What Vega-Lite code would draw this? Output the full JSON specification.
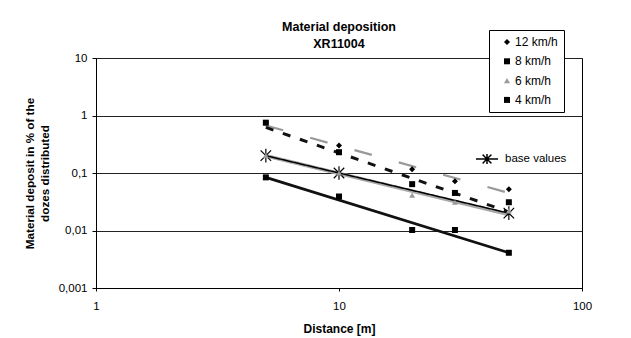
{
  "$schema": "https://vega.github.io/schema/vega-lite/v6.json",
  "width": 486,
  "height": 230,
  "autosize": {"type": "none"},
  "padding": {"left": 96, "top": 58, "right": 49, "bottom": 50},
  "background": "white",
  "config": {
    "font": "Liberation Sans",
    "view": {"stroke": "black", "strokeWidth": 1},
    "axis": {"labelFont": "Liberation Sans", "titleFont": "Liberation Sans", "labelColor": "black", "titleColor": "black", "domainColor": "black", "tickColor": "black", "labelFontSize": 11.5, "titleFontSize": 12, "titleFontWeight": "bold", "labelFlush": false},
    "legend": {"labelFont": "Liberation Sans", "labelFontSize": 11.5, "labelColor": "black"}
  },
  "title": {"text": ["Material deposition", "XR11004"], "fontSize": 12.5, "fontWeight": "bold", "color": "black", "lineHeight": 17, "offset": -21, "anchor": "middle", "font": "Liberation Sans"},
  "datasets": {
    "pts": [
      {"series": "12 km/h", "x": 5, "y": 0.75},
      {"series": "12 km/h", "x": 10, "y": 0.3},
      {"series": "12 km/h", "x": 20, "y": 0.116},
      {"series": "12 km/h", "x": 30, "y": 0.072},
      {"series": "12 km/h", "x": 50, "y": 0.052},
      {"series": "8 km/h", "x": 5, "y": 0.75},
      {"series": "8 km/h", "x": 10, "y": 0.23},
      {"series": "8 km/h", "x": 20, "y": 0.064},
      {"series": "8 km/h", "x": 30, "y": 0.045},
      {"series": "8 km/h", "x": 50, "y": 0.031},
      {"series": "6 km/h", "x": 5, "y": 0.2},
      {"series": "6 km/h", "x": 10, "y": 0.1},
      {"series": "6 km/h", "x": 20, "y": 0.041},
      {"series": "6 km/h", "x": 30, "y": 0.031},
      {"series": "6 km/h", "x": 50, "y": 0.022},
      {"series": "4 km/h", "x": 5, "y": 0.084},
      {"series": "4 km/h", "x": 10, "y": 0.039},
      {"series": "4 km/h", "x": 20, "y": 0.0102},
      {"series": "4 km/h", "x": 30, "y": 0.0102},
      {"series": "4 km/h", "x": 50, "y": 0.0041}
    ],
    "trend": [
      {"trend": "12 km/h", "x": 5, "y": 0.67},
      {"trend": "12 km/h", "x": 50, "y": 0.045},
      {"trend": "8 km/h", "x": 5, "y": 0.62},
      {"trend": "8 km/h", "x": 50, "y": 0.021},
      {"trend": "6 km/h", "x": 5, "y": 0.2},
      {"trend": "6 km/h", "x": 50, "y": 0.019},
      {"trend": "4 km/h", "x": 5, "y": 0.084},
      {"trend": "4 km/h", "x": 50, "y": 0.0041}
    ],
    "base": [
      {"name": "base values", "x": 5, "y": 0.2},
      {"name": "base values", "x": 10, "y": 0.1},
      {"name": "base values", "x": 50, "y": 0.02}
    ]
  },
  "encoding": {
    "x": {"field": "x", "type": "quantitative", "scale": {"type": "log", "domain": [1, 100], "nice": false},
      "axis": {"title": "Distance  [m]", "values": [1, 10, 100], "grid": false, "tickSize": 3, "labelPadding": 9, "titlePadding": 12, "labelFlush": false}},
    "y": {"field": "y", "type": "quantitative", "scale": {"type": "log", "domain": [0.001, 10], "nice": false},
      "axis": {"title": ["Material deposit in % of the", "dozes distributed"], "values": [0.001, 0.01, 0.1, 1, 10], "grid": true, "gridColor": "#222222", "gridOpacity": 1, "gridWidth": 1, "tickSize": 4, "labelPadding": 5, "labelExpr": "replace(toString(datum.value), '.', ',')", "titlePadding": 8, "titleLineHeight": 15, "titleFontSize": 11.7, "labelFlush": false}}
  },
  "layer": [
    {"data": {"name": "trend"}, "transform": [{"filter": "datum.trend == '6 km/h'"}], "mark": {"type": "line", "color": "#a8a8a8", "strokeWidth": 3.5}},
    {"data": {"name": "trend"}, "transform": [{"filter": "datum.trend == '4 km/h'"}], "mark": {"type": "line", "color": "#111111", "strokeWidth": 2.8}},
    {"data": {"name": "base"}, "mark": {"type": "line", "color": "black", "strokeWidth": 1.5},
      "encoding": {"strokeDash": {"field": "name", "type": "nominal", "scale": {"range": [[1, 0]]},
        "legend": {"title": null, "orient": "none", "legendX": 379, "legendY": 89, "padding": 0, "symbolType": "M-1,0H1M-0.4,-0.4L0.4,0.4M-0.4,0.4L0.4,-0.4M0,-0.45V0.45", "symbolSize": 484, "symbolStrokeColor": "black", "symbolStrokeWidth": 1.5, "symbolFillColor": "transparent", "labelOffset": 6, "labelFontSize": 11.5}}}},
    {"data": {"name": "trend"}, "transform": [{"filter": "datum.trend == '12 km/h'"}], "mark": {"type": "line", "color": "#999999", "strokeWidth": 2.2, "strokeDash": [18, 28]}},
    {"data": {"name": "trend"}, "transform": [{"filter": "datum.trend == '8 km/h'"}], "mark": {"type": "line", "color": "#111111", "strokeWidth": 3, "strokeDash": [8, 10]}},
    {"data": {"name": "base"}, "mark": {"type": "point", "shape": "M-1,-1L1,1M-1,1L1,-1M0,-1.3V1.3", "filled": false, "stroke": "black", "strokeWidth": 1.2, "size": 110, "opacity": 1}},
    {"data": {"name": "pts"}, "mark": {"type": "point", "filled": true, "opacity": 1, "size": 36},
      "encoding": {
        "shape": {"field": "series", "type": "nominal", "scale": {"domain": ["12 km/h", "8 km/h", "6 km/h", "4 km/h"], "range": ["diamond", "square", "triangle-up", "square"]},
          "legend": {"title": null, "orient": "none", "legendX": 393, "legendY": -28, "padding": 6, "fillColor": "white", "strokeColor": "black", "rowPadding": 7.3, "symbolSize": 36, "symbolOffset": 6, "labelOffset": 2, "labelFontSize": 12}},
        "color": {"field": "series", "type": "nominal", "scale": {"domain": ["12 km/h", "8 km/h", "6 km/h", "4 km/h"], "range": ["black", "black", "#9a9a9a", "black"]},
          "legend": {"title": null, "orient": "none", "legendX": 393, "legendY": -28, "padding": 6, "fillColor": "white", "strokeColor": "black", "rowPadding": 7.3, "symbolSize": 36, "symbolOffset": 6, "labelOffset": 2, "labelFontSize": 12}}
      }}
  ]
}
